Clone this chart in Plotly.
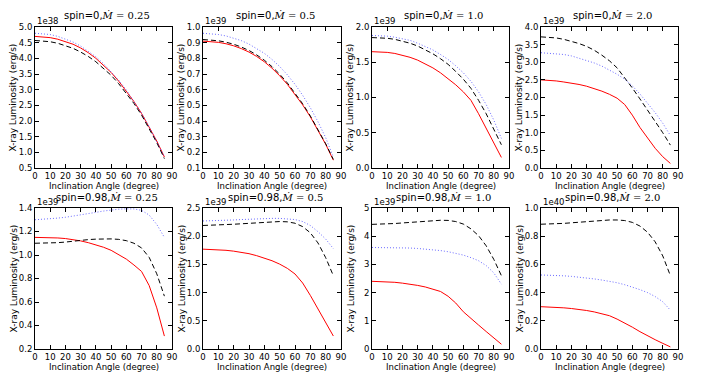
import plotly.graph_objects as go

angle = [0, 5, 10, 15, 20, 25, 30, 35, 40, 45, 50, 55, 60, 65, 70, 75, 80, 85]

spins = ["0", "0", "0", "0", "0.98", "0.98", "0.98", "0.98"]
mdots = ["0.25", "0.5", "1.0", "2.0", "0.25", "0.5", "1.0", "2.0"]
exponents = ["1e38", "1e39", "1e39", "1e39", "1e39", "1e39", "1e39", "1e40"]

# spin = 0
red_1 = [4.70, 4.69, 4.66, 4.61, 4.54, 4.45, 4.33, 4.18, 4.00, 3.79, 3.55, 3.27, 2.96, 2.62, 2.24, 1.82, 1.36, 0.85]
black_1 = [4.57, 4.56, 4.53, 4.48, 4.41, 4.32, 4.20, 4.06, 3.89, 3.69, 3.46, 3.19, 2.89, 2.56, 2.19, 1.77, 1.31, 0.80]
blue_1 = [4.80, 4.79, 4.76, 4.70, 4.62, 4.52, 4.39, 4.23, 4.05, 3.83, 3.58, 3.30, 2.99, 2.64, 2.25, 1.82, 1.36, 0.86]

red_2 = [0.910, 0.908, 0.902, 0.893, 0.880, 0.862, 0.840, 0.812, 0.778, 0.737, 0.689, 0.634, 0.572, 0.503, 0.427, 0.343, 0.252, 0.150]
black_2 = [0.920, 0.918, 0.912, 0.903, 0.890, 0.872, 0.850, 0.822, 0.788, 0.747, 0.699, 0.643, 0.580, 0.510, 0.432, 0.347, 0.255, 0.155]
blue_2 = [0.960, 0.958, 0.952, 0.943, 0.930, 0.913, 0.891, 0.864, 0.832, 0.793, 0.748, 0.695, 0.634, 0.564, 0.485, 0.395, 0.294, 0.170]

red_3 = [1.65, 1.648, 1.64, 1.625, 1.60, 1.57, 1.53, 1.48, 1.42, 1.35, 1.27, 1.18, 1.08, 0.96, 0.77, 0.56, 0.35, 0.15]
black_3 = [1.85, 1.848, 1.84, 1.825, 1.80, 1.77, 1.73, 1.68, 1.62, 1.55, 1.47, 1.37, 1.26, 1.13, 0.96, 0.77, 0.55, 0.33]
blue_3 = [1.88, 1.878, 1.87, 1.855, 1.835, 1.81, 1.77, 1.725, 1.675, 1.61, 1.54, 1.45, 1.35, 1.23, 1.08, 0.90, 0.68, 0.42]

red_4 = [2.50, 2.49, 2.47, 2.44, 2.41, 2.37, 2.32, 2.26, 2.18, 2.09, 1.98, 1.80, 1.50, 1.15, 0.85, 0.56, 0.32, 0.13]
black_4 = [3.72, 3.71, 3.69, 3.65, 3.60, 3.53, 3.45, 3.34, 3.20, 3.04, 2.84, 2.57, 2.27, 1.96, 1.65, 1.33, 1.00, 0.65]
blue_4 = [3.27, 3.26, 3.25, 3.22, 3.18, 3.12, 3.06, 2.98, 2.89, 2.78, 2.66, 2.52, 2.33, 2.10, 1.85, 1.57, 1.27, 0.92]

# spin = 0.98
red_5 = [1.150, 1.150, 1.148, 1.145, 1.140, 1.132, 1.120, 1.105, 1.088, 1.066, 1.040, 1.006, 0.965, 0.915, 0.860, 0.740, 0.550, 0.310]
black_5 = [1.100, 1.100, 1.102, 1.105, 1.110, 1.118, 1.125, 1.131, 1.135, 1.137, 1.137, 1.133, 1.122, 1.100, 1.060, 0.980, 0.840, 0.650]
blue_5 = [1.300, 1.303, 1.308, 1.314, 1.321, 1.330, 1.340, 1.352, 1.363, 1.374, 1.383, 1.390, 1.393, 1.392, 1.380, 1.340, 1.260, 1.150]

red_6 = [1.77, 1.767, 1.76, 1.75, 1.735, 1.715, 1.69, 1.655, 1.615, 1.565, 1.505, 1.43, 1.33, 1.17, 0.95, 0.71, 0.47, 0.23]
black_6 = [2.19, 2.193, 2.198, 2.205, 2.212, 2.22, 2.23, 2.24, 2.25, 2.257, 2.26, 2.255, 2.23, 2.17, 2.06, 1.88, 1.62, 1.30]
blue_6 = [2.27, 2.272, 2.276, 2.282, 2.288, 2.295, 2.302, 2.308, 2.313, 2.316, 2.316, 2.31, 2.295, 2.26, 2.19, 2.08, 1.95, 1.78]

red_7 = [2.40, 2.395, 2.385, 2.365, 2.335, 2.30, 2.255, 2.20, 2.13, 2.04, 1.87, 1.63, 1.32, 1.07, 0.85, 0.62, 0.40, 0.17]
black_7 = [4.42, 4.425, 4.435, 4.45, 4.47, 4.49, 4.51, 4.535, 4.555, 4.565, 4.56, 4.52, 4.43, 4.26, 4.02, 3.66, 3.18, 2.60]
blue_7 = [3.60, 3.60, 3.598, 3.595, 3.59, 3.58, 3.565, 3.545, 3.52, 3.49, 3.45, 3.40, 3.33, 3.24, 3.13, 2.96, 2.70, 2.30]

red_8 = [0.300, 0.299, 0.296, 0.292, 0.287, 0.281, 0.273, 0.263, 0.251, 0.236, 0.212, 0.185, 0.155, 0.123, 0.093, 0.066, 0.040, 0.015]
black_8 = [0.885, 0.886, 0.888, 0.891, 0.895, 0.899, 0.904, 0.909, 0.913, 0.915, 0.915, 0.911, 0.898, 0.872, 0.828, 0.760, 0.660, 0.520]
blue_8 = [0.525, 0.524, 0.522, 0.519, 0.515, 0.510, 0.504, 0.497, 0.489, 0.480, 0.470, 0.456, 0.440, 0.421, 0.400, 0.372, 0.335, 0.275]

reds = [red_1, red_2, red_3, red_4, red_5, red_6, red_7, red_8]
blacks = [black_1, black_2, black_3, black_4, black_5, black_6, black_7, black_8]
blues = [blue_1, blue_2, blue_3, blue_4, blue_5, blue_6, blue_7, blue_8]

y_ranges = [[0.5, 5.0], [0.1, 1.0], [0, 2.0], [0, 4.0], [0.2, 1.4], [0, 2.5], [0, 5], [0, 1.0]]
y_dticks = [0.5, 0.1, 0.5, 0.5, 0.2, 0.5, 1, 0.2]
y_formats = [".1f", ".1f", ".1f", ".1f", ".1f", ".1f", "d", ".1f"]

W, H = 706, 377
col_px = [(35, 172), (203, 341), (372, 509), (541, 678)]
row_px = [(27, 168), (208, 349)]
ytitle_px = [13, 181, 350, 519]

FONT = "DejaVu Sans"
MATH = "DejaVu Serif"
fig = go.Figure()
annotations = []
layout = {}

for i in range(8):
    r, c = divmod(i, 4)
    n = i + 1
    xa = "x" if n == 1 else f"x{n}"
    ya = "y" if n == 1 else f"y{n}"
    x0, x1 = col_px[c]
    ytop, ybot = row_px[r]
    xd = [x0 / W, x1 / W]
    yd = [1 - ybot / H, 1 - ytop / H]

    fig.add_trace(go.Scatter(x=angle, y=reds[i], mode="lines", xaxis=xa, yaxis=ya,
                             line=dict(color="#ff0000", width=1)))
    fig.add_trace(go.Scatter(x=angle, y=blacks[i], mode="lines", xaxis=xa, yaxis=ya,
                             line=dict(color="black", width=1, dash="5px,3px")))
    fig.add_trace(go.Scatter(x=angle, y=blues[i], mode="lines", xaxis=xa, yaxis=ya,
                             line=dict(color="rgba(70,70,255,0.8)", width=1, dash="1px,2px")))

    axcommon = dict(showline=True, linecolor="black", linewidth=1, mirror="allticks",
                    ticks="inside", ticklen=4, tickcolor="black", showgrid=False,
                    zeroline=False, automargin=False,
                    tickfont=dict(family=FONT, size=8.5, color="black"))
    layout[f"xaxis{n}"] = dict(domain=xd, range=[0, 90], dtick=10, tick0=0,
                               anchor=ya, **axcommon)
    layout[f"yaxis{n}"] = dict(domain=yd, range=y_ranges[i], dtick=y_dticks[i],
                               tickformat=y_formats[i], anchor=xa, **axcommon)

    xc = (x0 + x1) / 2 / W
    annotations.append(dict(
        text=f'spin={spins[i]},<span style="font-family:{MATH}"><i>Ṁ</i> = {mdots[i]}</span>',
        x=xc + 3 / W, y=1 - (ytop - 3.5) / H, xref="paper", yref="paper",
        xanchor="center", yanchor="bottom", showarrow=False,
        font=dict(family=FONT, size=10, color="black")))
    annotations.append(dict(
        text=exponents[i], x=x0 / W, y=1 - (ytop + 1) / H, xref="paper", yref="paper",
        xanchor="left", yanchor="bottom", showarrow=False,
        font=dict(family=FONT, size=8.5, color="black")))
    annotations.append(dict(
        text="Inclination Angle (degree)", x=xc, y=1 - (ybot + 11) / H,
        xref="paper", yref="paper", xanchor="center", yanchor="top", showarrow=False,
        font=dict(family=FONT, size=8.5, color="black")))
    annotations.append(dict(
        text="X-ray Luminosity (erg/s)", x=ytitle_px[c] / W, y=sum(yd) / 2,
        xref="paper", yref="paper", xanchor="center", yanchor="middle",
        textangle=-90, showarrow=False,
        font=dict(family=FONT, size=9, color="black")))

fig.update_layout(
    width=W, height=H, showlegend=False,
    margin=dict(l=0, r=0, t=0, b=0),
    paper_bgcolor="white", plot_bgcolor="white",
    annotations=annotations, **layout)

# drop the page's default body margin so the figure sits at the window's corner
fig.write_html("out.html", config={"displayModeBar": False},
               post_script="document.body.style.margin='0';")
